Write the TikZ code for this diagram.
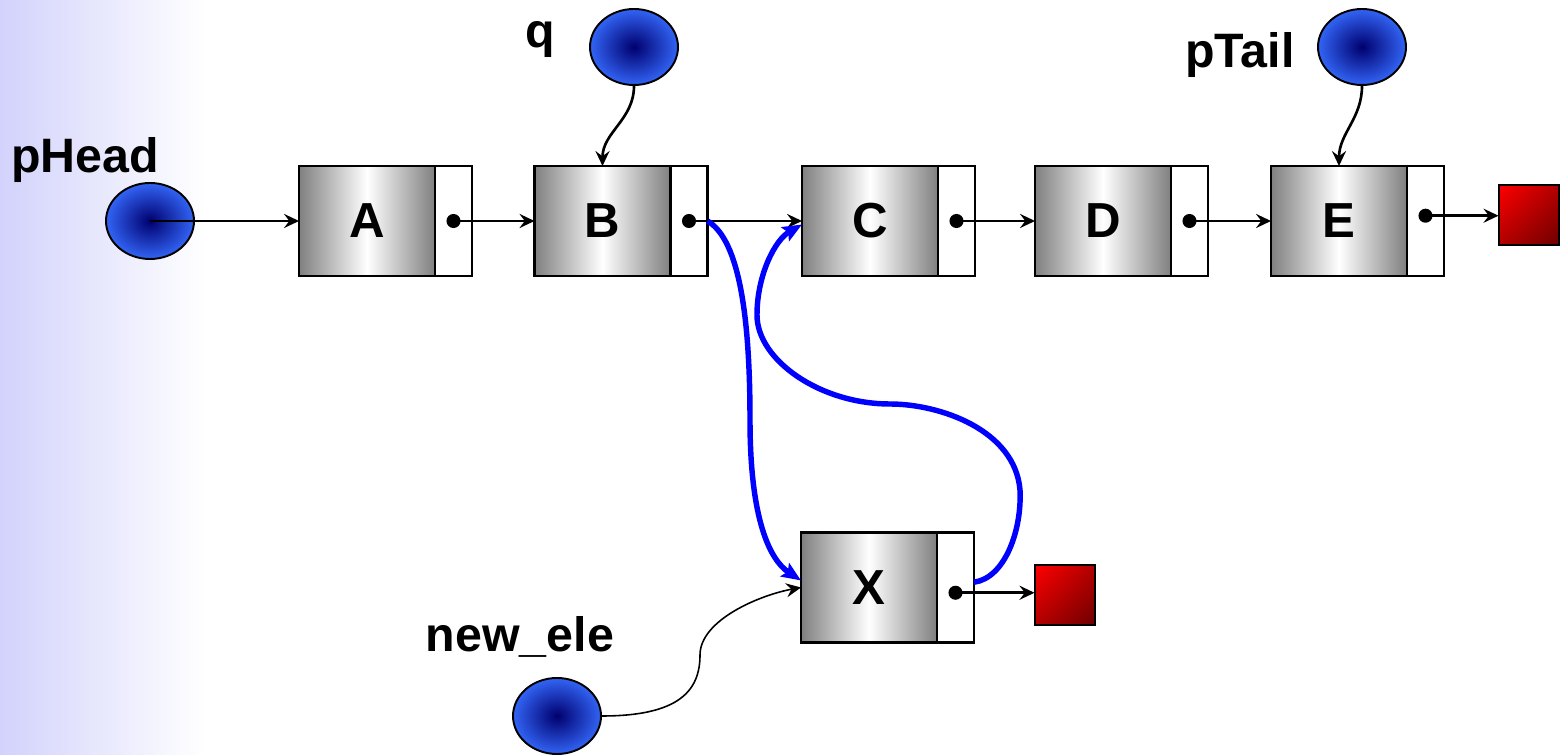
\documentclass[tikz,border=0pt]{standalone}
\usepackage{fontspec}
\setmainfont{Liberation Sans}
\usetikzlibrary{arrows.meta,positioning,shapes.geometric,shadings}
\definecolor{ballblue}{RGB}{50,100,245}
\definecolor{ballcore}{RGB}{0,0,110}
\definecolor{lavender}{RGB}{210,210,252}
\definecolor{darkred}{RGB}{110,0,0}

\begin{document}
\begin{tikzpicture}[
    datbox/.style={rectangle,draw,line width=1.2pt,minimum width=2.72cm,minimum height=2.2cm,
      inner sep=0pt,outer sep=0pt,left color=gray,right color=gray,middle color=white,
      font=\fontsize{28}{30}\selectfont\bfseries},
    ptrbox/.style={rectangle,draw,fill=white,line width=1.2pt,minimum width=0.74cm,minimum height=2.2cm,
      inner sep=0pt,outer sep=0pt},
    nullbox/.style={rectangle,draw,line width=0.6pt,minimum size=1.2cm,inner sep=0pt,
      upper left=red,lower right=darkred,upper right=red!70!black,lower left=red!70!black},
    ptrball/.style={ellipse,draw,line width=1.1pt,minimum width=1.76cm,minimum height=1.52cm,
      inner color=ballcore,outer color=ballblue},
    dot/.style={circle,fill,inner sep=0pt,minimum size=8pt},
    lbl/.style={font=\fontsize{27.5}{30}\selectfont\bfseries},
    link/.style={line width=1.5pt,-{Stealth[length=8.5pt,width=8pt,inset=3pt]}},
    bluelink/.style={blue,line width=3.1pt,-{Stealth[length=11pt,width=9pt,inset=2pt]}}
  ]
  \useasboundingbox (0,0) rectangle (31.28,15.1);
  \fill[white] (0,0) rectangle (31.28,15.1);
  \shade[left color=lavender,right color=white] (0,0) rectangle (4.1,15.1);

  % the list
  \node[datbox] (A) at (7.34,10.68) {A};
  \node[ptrbox,right=0pt of A] (Ap) {};
  \node[datbox] (B) at (12.05,10.68) {B};
  \node[ptrbox,right=0pt of B] (Bp) {};
  \node[datbox] (C) at (17.4,10.68) {C};
  \node[ptrbox,right=0pt of C] (Cp) {};
  \node[datbox] (D) at (22.06,10.68) {D};
  \node[ptrbox,right=0pt of D] (Dp) {};
  \node[datbox] (E) at (26.78,10.68) {E};
  \node[ptrbox,right=0pt of E] (Ep) {};
  \node[nullbox] (nE) at (30.58,10.8) {};

  % new element
  \node[datbox] (X) at (17.38,3.35) {X};
  \node[ptrbox,right=0pt of X] (Xp) {};
  \node[nullbox] (nX) at (21.3,3.2) {};

  % pointers
  \node[ptrball] (pH) at (3.0,10.68) {};
  \node[lbl] (lH) at (1.7,11.9) {pHead};
  \node[ptrball] (q) at (12.68,14.16) {};
  \node[lbl] (lq) at (10.8,14.3) {q};
  \node[ptrball] (pT) at (27.24,14.16) {};
  \node[lbl] (lT) at (24.8,14.0) {pTail};
  \node[ptrball] (ne) at (11.14,0.78) {};
  \node[lbl] (lne) at (10.4,2.36) {new\_ele};

  \node[dot] (dA) at (Ap) {};
  \node[dot] (dB) at (Bp) {};
  \node[dot] (dC) at (Cp) {};
  \node[dot] (dD) at (Dp) {};
  \node[dot] (dE) at ([yshift=3pt]Ep.center) {};
  \node[dot] (dX) at ([yshift=-3pt]Xp.center) {};

  \draw[link] (pH.center) -- (A.west);
  \draw[link] (dA.center) -- (B.west);
  \draw[link] (dB.center) -- (C.west);
  \draw[link] (dC.center) -- (D.west);
  \draw[link] (dD.center) -- (E.west);
  \draw[link] (dE.center) -- (dE.center -| nE.west);
  \draw[link] (dX.center) -- (dX.center -| nX.west);
  \draw[link] (q.south) to[out=-90,in=90] (B.north);
  \draw[link] (pT.south) to[out=-90,in=90] (E.north);
  \draw[link,line width=0.9pt] (ne.east) .. controls (13.6,0.78) and (14.0,1.3) .. (14.0,2.0)
    .. controls (14.0,2.7) and (15.2,3.2) .. (X.west);

  % relinking
  \draw[bluelink] (Bp.east) .. controls (14.8,10.3) and (15.0,8.7) .. (15.0,6.7)
    .. controls (15.0,4.7) and (15.4,3.9) .. ([yshift=4pt]X.west);
  \draw[bluelink] ([yshift=3pt]Xp.east) .. controls (20.1,3.54) and (20.44,4.5) .. (20.4,5.3)
    .. controls (20.3,6.5) and (18.8,7.02) .. (17.8,7.02)
    .. controls (16.4,7.02) and (15.14,7.9) .. (15.14,8.8)
    .. controls (15.14,9.6) and (15.5,10.3) .. ([yshift=-2pt]C.west);
\end{tikzpicture}
\end{document}
